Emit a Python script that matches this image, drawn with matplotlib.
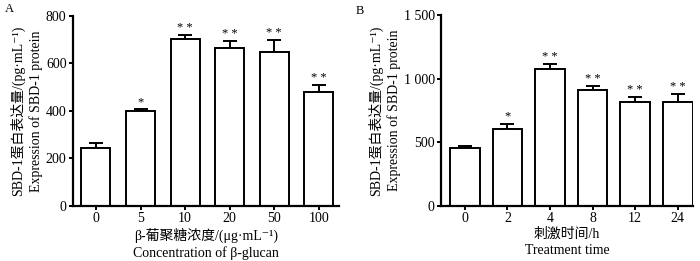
import numpy as np
import matplotlib
matplotlib.use("Agg")
import matplotlib.pyplot as plt

plt.rcParams['font.family'] = ['Liberation Serif', 'Noto Sans CJK SC', 'DejaVu Serif']
plt.rcParams['font.size'] = 10

# panel A: beta-glucan concentration
conc_labels = ['0', '5', '10', '20', '50', '100']
conc_mean = [245, 398, 702, 665, 647, 480]
conc_err = [22, 8, 18, 28, 53, 28]
conc_sig = ['', '*', '* *', '* *', '* *', '* *']

# panel B: treatment time
time_labels = ['0', '2', '4', '8', '12', '24']
time_mean = [453, 605, 1078, 911, 819, 819]
time_err = [16, 42, 40, 34, 37, 61]
time_sig = ['', '*', '* *', '* *', '* *', '* *']

ylabel = 'SBD-1蛋白表达量/(pg·mL⁻¹)\nExpression of SBD-1 protein'


def draw_panel(ax, labels, means, errs, sigs, ymax, yticks, yticklabels,
               xlabel, xlim, width):
    x = np.arange(len(labels))
    ax.bar(x, means, width=width, color='white', edgecolor='black',
           linewidth=1.4, zorder=2)
    ax.errorbar(x, means, yerr=[np.zeros(len(errs)), errs], fmt='none',
                ecolor='black', elinewidth=1.4, capsize=5, capthick=1.4,
                zorder=1)
    for xi, m, e, s in zip(x, means, errs, sigs):
        if s:
            ax.text(xi, m + e + ymax * 0.005, s, ha='center', va='bottom',
                    fontsize=9)
    ax.set_ylim(0, ymax)
    ax.set_xlim(*xlim)
    ax.set_yticks(yticks)
    ax.set_yticklabels(yticklabels)
    ax.set_xticks(x)
    ax.set_xticklabels(labels)
    ax.spines['top'].set_visible(False)
    ax.spines['right'].set_visible(False)
    ax.spines['left'].set_linewidth(1.6)
    ax.spines['bottom'].set_linewidth(1.6)
    ax.tick_params(direction='out', length=3, width=1.4, pad=1.5)
    ax.set_ylabel(ylabel, linespacing=1.35, labelpad=2)
    ax.set_xlabel(xlabel, linespacing=1.3, labelpad=2)


fig = plt.figure(figsize=(7, 2.61), dpi=100)
ax_a = fig.add_axes([0.104, 0.211, 0.380, 0.728])
ax_b = fig.add_axes([0.630, 0.211, 0.360, 0.730])

draw_panel(ax_a, conc_labels, conc_mean, conc_err, conc_sig, 800,
           [0, 200, 400, 600, 800], ['0', '200', '400', '600', '800'],
           'β-葡聚糖浓度/(μg·mL⁻¹)\nConcentration of β-glucan',
           (-0.52, 5.45), 0.65)
draw_panel(ax_b, time_labels, time_mean, time_err, time_sig, 1500,
           [0, 500, 1000, 1500], ['0', '500', '1 000', '1 500'],
           '刺激时间/h\nTreatment time',
           (-0.56, 5.36), 0.70)

fig.text(0.007, 0.955, 'A', fontsize=9)
fig.text(0.508, 0.948, 'B', fontsize=9)

fig.savefig('out.png', dpi=100)
